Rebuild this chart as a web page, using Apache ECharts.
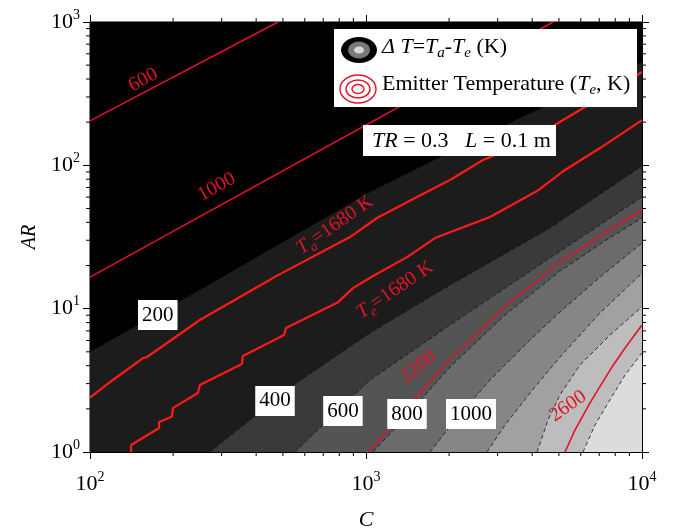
<!DOCTYPE html>
<html>
<head>
<meta charset="utf-8">
<script src="https://cdn.jsdelivr.net/npm/echarts@6/dist/echarts.min.js"></script>
<style>
  html, body { margin: 0; padding: 0; background: #fff; }
  #chart { width: 673px; height: 528px; }
</style>
</head>
<body>
<div id="chart"></div>
<script>
// ---- axis ranges and tick values ----
const cMin = 100, cMax = 10000;       // C
const arMin = 1, arMax = 1000;        // AR
const cMinorTicks = [200, 300, 400, 500, 600, 700, 800, 900, 2000, 3000, 4000, 5000, 6000, 7000, 8000, 9000];
const arMinorTicks = [2, 3, 4, 5, 6, 7, 8, 9, 20, 30, 40, 50, 60, 70, 80, 90, 200, 300, 400, 500, 600, 700, 800, 900];

// ---- ΔT = Ta - Te filled contours: level boundaries as [C, AR] ----
const dtLevels = [200, 400, 600, 800, 1000, 1200, 1400, 1600];
const dt200  = [[100, 4.99], [250, 13.5], [1034, 65.2], [1854, 114], [3614, 214], [10000, 526]];
const dt400  = [[272, 1], [380, 1.67], [553, 2.98], [1034, 6.76], [2016, 14.6], [4642, 36.5], [10000, 98.9]];
const dt600  = [[553, 1], [741, 1.73], [1034, 3.18], [2016, 7.69], [4642, 22.6], [10000, 60.1]];
const dt800  = [[1060, 1], [1443, 1.90], [2016, 3.92], [3189, 9.03], [5046, 18.3], [7345, 29.7], [10000, 42.9]];
const dt1000 = [[1706, 1], [2102, 1.67], [2813, 3.18], [3929, 6.05], [5046, 9.48], [7045, 16.6], [10000, 28.7]];
const dt1200 = [[2744, 1], [3189, 1.54], [3929, 2.58], [5046, 4.60], [7045, 9.33], [10000, 17.7]];
const dt1400 = [[4166, 1], [4565, 1.67], [5046, 2.50], [5963, 4.05], [7657, 6.55], [10000, 10.3]];
const dt1600 = [[6113, 1], [6756, 1.54], [7657, 2.31], [8680, 3.44], [10000, 4.91]];
const dtBoundaries = [dt200, dt400, dt600, dt800, dt1000, dt1200, dt1400, dt1600];

// ---- emitter temperature contours (Te, K) as [C, AR] ----
const te600  = [[100, 204], [480, 1000]];
const te1000 = [[100, 16.6], [4760, 1000]];
const te2200 = [[1008, 1], [1078, 1.12], [1408, 2.03], [1966, 4.25], [3136, 10.1], [4920, 20.5], [7224, 33.2], [10000, 48.8]];
const te2600 = [[5260, 1], [5716, 1.42], [6479, 2.20], [7657, 3.73], [8680, 5.32], [10000, 7.69]];

// ---- 1680 K limit lines (absorber Ta and emitter Te) ----
const ta1680 = [[100, 2.4], [121, 3.18], [156, 4.53], [161, 4.60], [244, 8.07], [250, 8.34], [449, 15.9], [460, 16.4],
                [875, 31.6], [1096, 42.9], [1530, 60.1], [2016, 79.0], [2654, 109], [3059, 122], [4760, 188], [7045, 295], [10000, 448]];
const te1680 = [[141, 1], [141, 1.12], [178, 1.47], [178, 1.62], [198, 1.76], [200, 2.03], [246, 2.58], [250, 2.93],
                [355, 4.11], [358, 4.68], [505, 6.55], [513, 7.33], [792, 11.1], [897, 13.9], [1060, 16.9], [1408, 22.9],
                [1778, 31.1], [2813, 43.6], [4166, 66.2], [5260, 92.8], [7045, 132], [10000, 207]];

const bandColors = ['#1c1c1c', '#3a3a3a', '#545454', '#6b6b6b', '#868686', '#a1a1a1', '#bdbdbd', '#dcdcdc'];
const SERIF = '"Liberation Serif", "Times New Roman", serif';
const RED = '#e3122a';
const RED_BOLD = '#ff1a1a';

const chart = echarts.init(document.getElementById('chart'));

function supLabel(v) {
  return '{b|10}{e|' + Math.round(Math.log10(v)) + '}';
}
const supRich = {
  b: { fontSize: 22, fontFamily: SERIF, color: '#000', lineHeight: 28 },
  e: { fontSize: 14, fontFamily: SERIF, color: '#000', lineHeight: 14, verticalAlign: 'top' }
};

function lineSeries(name, data, color, width) {
  return {
    name, type: 'line', data, symbol: 'none', smooth: false, clip: true, z: 4,
    lineStyle: { color, width }, silent: true, animation: false
  };
}

// rotated text placed at a data position
function textAt(api, pos, text, rotDeg, extra) {
  const p = api.coord(pos);
  return {
    type: 'text', x: p[0], y: p[1], rotation: rotDeg * Math.PI / 180,
    style: Object.assign({ text, align: 'center', verticalAlign: 'middle' }, extra)
  };
}

const redRich = {
  n: { fontSize: 20, fontFamily: SERIF, fill: RED, fontStyle: 'italic', lineHeight: 26 },
  r: { fontSize: 20, fontFamily: SERIF, fill: RED, lineHeight: 26 },
  s: { fontSize: 14, fontFamily: SERIF, fill: RED, fontStyle: 'italic', lineHeight: 14, verticalAlign: 'bottom' }
};

// key / note text styles
const keyRich = {
  i: { fontSize: 22, fontFamily: SERIF, fontStyle: 'italic', fill: '#000', lineHeight: 28 },
  r: { fontSize: 22, fontFamily: SERIF, fill: '#000', lineHeight: 28 },
  s: { fontSize: 15, fontFamily: SERIF, fontStyle: 'italic', fill: '#000', lineHeight: 15, verticalAlign: 'bottom' }
};

// Te contour labels and 1680 K labels
const curveLabels = [
  { pos: [156, 394], text: '{r|600}', rot: 28 },
  { pos: [288, 70.6], text: '{r|1000}', rot: 29 },
  { pos: [1543, 3.92], text: '{r|2200}', rot: 38 },
  { pos: [5395, 2.09], text: '{r|2600}', rot: 35 },
  { pos: [772, 38.3], text: '{n|T}{s|a}{r|=1680 K}', rot: 35 },
  { pos: [1274, 13.5], text: '{n|T}{s|e}{r|=1680 K}', rot: 34 }
];

// boxed ΔT level labels
const dtLabelPos = [[176, 9.03], [468, 2.27], [825, 1.93], [1408, 1.84], [2401, 1.84]];

const option = {
  animation: false,
  backgroundColor: '#fff',
  grid: {
    left: 90, right: 31, top: 22, bottom: 76, outerBoundsMode: 'none', containLabel: false,
    show: true, backgroundColor: '#000', borderColor: '#000', borderWidth: 1
  },
  xAxis: [
    {
      type: 'log', logBase: 10, min: cMin, max: cMax, position: 'bottom',
      name: 'C', nameLocation: 'middle', nameGap: 57,
      nameTextStyle: { fontFamily: SERIF, fontStyle: 'italic', fontSize: 22, color: '#000' },
      axisLine: { lineStyle: { color: '#000', width: 1 } },
      axisTick: { inside: false, length: 7, lineStyle: { color: '#000' } },
      axisLabel: { formatter: supLabel, rich: supRich, margin: 18 },
      splitLine: { show: false }
    },
    {
      type: 'log', logBase: 10, min: cMin, max: cMax, position: 'top',
      axisLine: { lineStyle: { color: '#000', width: 1 } },
      axisTick: { inside: false, length: 7, lineStyle: { color: '#000' } },
      axisLabel: { show: false }, splitLine: { show: false }
    }
  ],
  yAxis: [
    {
      type: 'log', logBase: 10, min: arMin, max: arMax, position: 'left',
      name: 'AR', nameLocation: 'middle', nameGap: 46,
      nameTextStyle: { fontFamily: SERIF, fontStyle: 'italic', fontSize: 20, color: '#000' },
      axisLine: { lineStyle: { color: '#000', width: 1 } },
      axisTick: { inside: false, length: 7, lineStyle: { color: '#000' } },
      axisLabel: { formatter: supLabel, rich: supRich, margin: 10 },
      splitLine: { show: false }
    },
    {
      type: 'log', logBase: 10, min: arMin, max: arMax, position: 'right',
      axisLine: { lineStyle: { color: '#000', width: 1 } },
      axisTick: { inside: false, length: 7, lineStyle: { color: '#000' } },
      axisLabel: { show: false }, splitLine: { show: false }
    }
  ],
  series: [
    // filled ΔT bands, each drawn over the previous one
    {
      type: 'custom', name: 'ΔT bands', clip: true, z: 1, silent: true,
      data: dtBoundaries.map(b => b[0]),
      renderItem: function (params, api) {
        const b = dtBoundaries[params.dataIndex];
        const poly = b.concat([[cMax, arMin], [cMin, arMin]]).map(p => api.coord(p));
        const edge = b.map(p => api.coord(p));
        return {
          type: 'group', children: [
            { type: 'polygon', shape: { points: poly }, style: { fill: bandColors[params.dataIndex] } },
            { type: 'polyline', shape: { points: edge }, style: { stroke: '#111', lineWidth: 0.8, lineDash: [4, 3], fill: null } }
          ]
        };
      }
    },
    lineSeries('Te 600', te600, RED, 1.5),
    lineSeries('Te 1000', te1000, RED, 1.5),
    lineSeries('Te 2200', te2200, RED, 1.5),
    lineSeries('Te 2600', te2600, RED, 1.6),
    lineSeries('Ta 1680', ta1680, RED_BOLD, 2.2),
    lineSeries('Te 1680', te1680, RED_BOLD, 2.2),
    // curve labels
    {
      type: 'custom', name: 'curve labels', z: 6, silent: true,
      data: curveLabels.map(l => l.pos),
      renderItem: function (params, api) {
        const l = curveLabels[params.dataIndex];
        return textAt(api, l.pos, l.text, l.rot, { rich: redRich, fill: RED });
      }
    },
    // boxed ΔT level labels
    {
      type: 'custom', name: 'ΔT labels', z: 6, silent: true,
      data: dtLabelPos,
      renderItem: function (params, api) {
        return textAt(api, dtLabelPos[params.dataIndex], String(dtLevels[params.dataIndex]), 0, {
          font: '21px ' + SERIF, fill: '#000', backgroundColor: '#fff', padding: [5, 4, 4, 4]
        });
      }
    },
    // minor ticks on the C axes (bottom and top)
    {
      type: 'custom', name: 'C minor ticks', z: 7, silent: true,
      data: cMinorTicks.map(v => [v, arMin]),
      renderItem: function (params, api) {
        const v = api.value(0);
        const b = api.coord([v, arMin]);
        const t = api.coord([v, arMax]);
        return {
          type: 'group', children: [
            { type: 'line', shape: { x1: b[0], y1: b[1], x2: b[0], y2: b[1] + 4 }, style: { stroke: '#000', lineWidth: 1 } },
            { type: 'line', shape: { x1: t[0], y1: t[1], x2: t[0], y2: t[1] - 4 }, style: { stroke: '#000', lineWidth: 1 } }
          ]
        };
      }
    },
    // minor ticks on the AR axes (left and right)
    {
      type: 'custom', name: 'AR minor ticks', z: 7, silent: true,
      data: arMinorTicks.map(v => [cMin, v]),
      renderItem: function (params, api) {
        const v = api.value(1);
        const l = api.coord([cMin, v]);
        const r = api.coord([cMax, v]);
        return {
          type: 'group', children: [
            { type: 'line', shape: { x1: l[0], y1: l[1], x2: l[0] - 4, y2: l[1] }, style: { stroke: '#000', lineWidth: 1 } },
            { type: 'line', shape: { x1: r[0], y1: r[1], x2: r[0] + 4, y2: r[1] }, style: { stroke: '#000', lineWidth: 1 } }
          ]
        };
      }
    }
  ],
  graphic: [
    // key box
    { type: 'rect', z: 20, shape: { x: 334, y: 29, width: 303, height: 78 }, style: { fill: '#fff' } },
    { type: 'ellipse', z: 21, shape: { cx: 359, cy: 50, rx: 18, ry: 13 }, style: { fill: '#000' } },
    { type: 'ellipse', z: 21, shape: { cx: 359, cy: 50, rx: 11, ry: 8.5 }, style: { fill: '#7a7a7a', stroke: '#333', lineWidth: 0.6, lineDash: [2, 1] } },
    { type: 'ellipse', z: 21, shape: { cx: 359, cy: 50, rx: 5, ry: 3.5 }, style: { fill: '#d8d8d8' } },
    { type: 'ellipse', z: 21, shape: { cx: 358, cy: 89, rx: 18, ry: 14 }, style: { fill: null, stroke: RED, lineWidth: 1.4 } },
    { type: 'ellipse', z: 21, shape: { cx: 358, cy: 89, rx: 12, ry: 9 }, style: { fill: null, stroke: RED, lineWidth: 1.4 } },
    { type: 'ellipse', z: 21, shape: { cx: 358, cy: 89, rx: 6, ry: 4.5 }, style: { fill: null, stroke: RED, lineWidth: 1.4 } },
    {
      type: 'text', z: 21, x: 382, y: 47,
      style: { text: '{i|Δ T}{r|=}{i|T}{s|a}{r|-}{i|T}{s|e}{r| (K)}', verticalAlign: 'middle', rich: keyRich }
    },
    {
      type: 'text', z: 21, x: 382, y: 84,
      style: { text: '{r|Emitter Temperature (}{i|T}{s|e}{r|, K)}', verticalAlign: 'middle', rich: keyRich }
    },
    // parameter box
    { type: 'rect', z: 20, shape: { x: 363, y: 125, width: 193, height: 31 }, style: { fill: '#fff' } },
    {
      type: 'text', z: 21, x: 372, y: 141,
      style: { text: '{i|TR}{r| = 0.3   }{i|L}{r| = 0.1 m}', verticalAlign: 'middle', rich: keyRich }
    }
  ]
};

chart.setOption(option);
</script>
</body>
</html>
